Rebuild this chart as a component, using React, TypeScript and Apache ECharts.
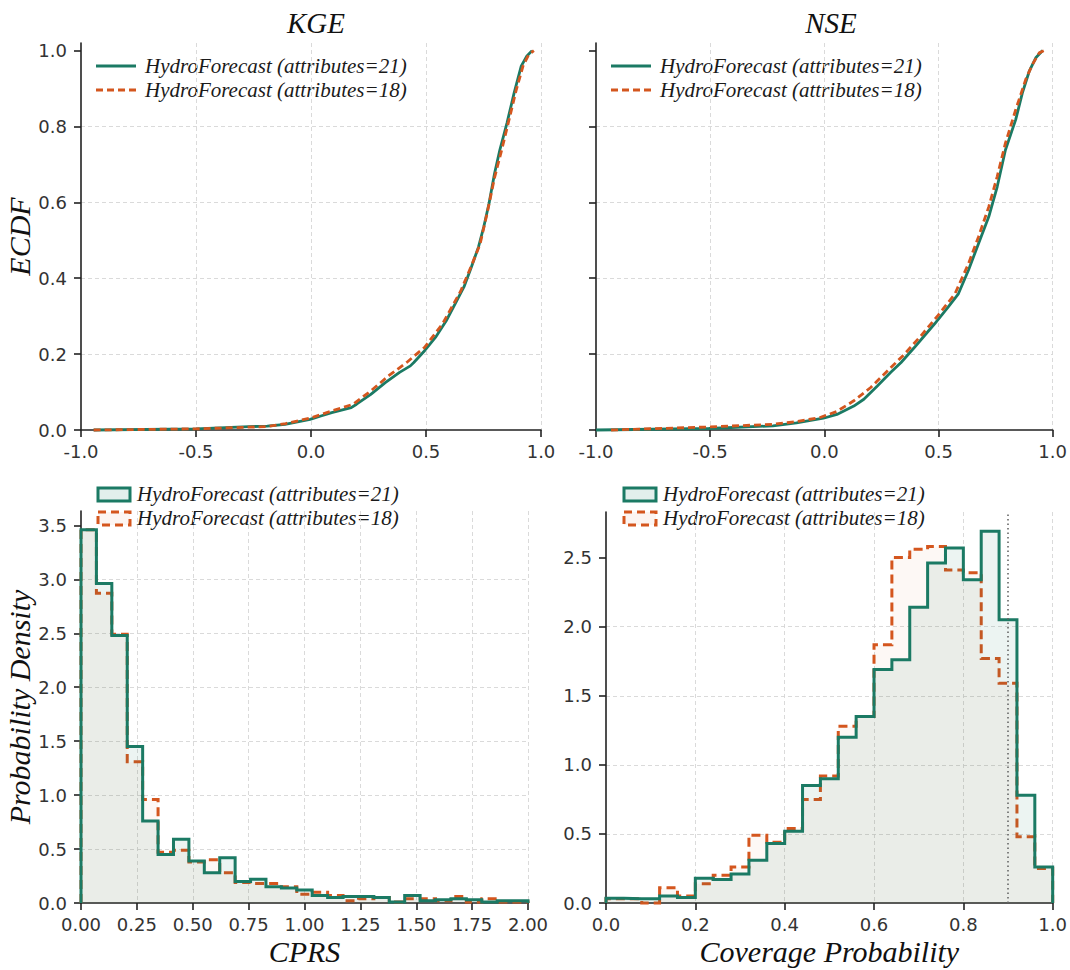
import React, { useEffect, useRef } from "react";
import * as echarts from "echarts";

const GREEN = "#1b7a64";
const ORANGE = "#d4561e";
const GREEN_FILL = "rgba(27,122,100,0.12)";
const ORANGE_FILL = "rgba(212,86,30,0.06)";
const TEXT = "#333333";
const SERIF = "Liberation Serif";
const SANS = "DejaVu Sans";

// ---- ECDF: KGE ----
const kgeX21 = [-0.945, -0.5, -0.27, -0.19, -0.113, -0.004, 0.043, 0.09, 0.175, 0.198, 0.26, 0.323, 0.385, 0.432, 0.447, 0.494, 0.541, 0.588, 0.634, 0.665, 0.697, 0.728, 0.751, 0.774, 0.798, 0.821, 0.852, 0.883, 0.914, 0.938, 0.961];
const kgeY21 = [0, 0.003, 0.009, 0.01, 0.015, 0.028, 0.037, 0.046, 0.059, 0.068, 0.094, 0.125, 0.152, 0.169, 0.178, 0.209, 0.244, 0.288, 0.341, 0.377, 0.429, 0.482, 0.535, 0.597, 0.676, 0.738, 0.809, 0.888, 0.959, 0.985, 1.0];
const kgeX18 = [-0.945, -0.5, -0.19, -0.11, 0.0, 0.09, 0.183, 0.26, 0.338, 0.416, 0.494, 0.572, 0.65, 0.697, 0.735, 0.766, 0.798, 0.829, 0.86, 0.891, 0.922, 0.946, 0.969];
const kgeY18 = [0, 0.003, 0.009, 0.017, 0.032, 0.05, 0.068, 0.103, 0.143, 0.178, 0.218, 0.28, 0.365, 0.432, 0.49, 0.572, 0.665, 0.738, 0.815, 0.893, 0.96, 0.989, 1.0];

// ---- ECDF: NSE ----
const nseX21 = [-1.0, -0.506, -0.225, -0.122, -0.004, 0.055, 0.129, 0.173, 0.232, 0.291, 0.336, 0.395, 0.439, 0.483, 0.542, 0.587, 0.631, 0.675, 0.72, 0.757, 0.793, 0.838, 0.867, 0.897, 0.926, 0.956];
const nseY21 = [0, 0.004, 0.011, 0.019, 0.031, 0.041, 0.063, 0.081, 0.116, 0.152, 0.178, 0.218, 0.249, 0.28, 0.324, 0.359, 0.421, 0.491, 0.562, 0.641, 0.738, 0.818, 0.888, 0.945, 0.981, 1.0];
const nseX18 = [-0.934, -0.506, -0.225, -0.122, -0.019, 0.055, 0.129, 0.203, 0.277, 0.351, 0.424, 0.498, 0.572, 0.631, 0.675, 0.72, 0.757, 0.793, 0.838, 0.882, 0.911, 0.941, 0.963];
const nseY18 = [0, 0.008, 0.015, 0.022, 0.033, 0.049, 0.077, 0.112, 0.156, 0.2, 0.249, 0.302, 0.359, 0.438, 0.509, 0.588, 0.668, 0.756, 0.844, 0.924, 0.963, 0.994, 1.0];

// ---- Histogram: CPRS (29 bins on [0, 2]) ----
const cprsRange = [0, 2];
const cprsDensity21 = [3.46, 2.96, 2.48, 1.45, 0.76, 0.45, 0.59, 0.39, 0.28, 0.42, 0.2, 0.22, 0.15, 0.14, 0.12, 0.07, 0.05, 0.06, 0.06, 0.05, 0.01, 0.07, 0.02, 0.03, 0.04, 0.03, 0.01, 0.02, 0.02];
const cprsDensity18 = [3.46, 2.87, 2.49, 1.31, 0.96, 0.47, 0.49, 0.38, 0.4, 0.28, 0.19, 0.18, 0.18, 0.15, 0.08, 0.1, 0.07, 0.02, 0.04, 0.05, 0.01, 0.04, 0.04, 0.02, 0.06, 0.01, 0.04, 0.01, 0.01];

// ---- Histogram: Coverage probability (25 bins on [0, 1]) ----
const covRange = [0, 1];
const covDensity21 = [0.034, 0.03, 0.03, 0.05, 0.04, 0.18, 0.17, 0.21, 0.31, 0.43, 0.52, 0.85, 0.9, 1.2, 1.35, 1.69, 1.76, 2.14, 2.46, 2.57, 2.34, 2.69, 2.05, 0.78, 0.26];
const covDensity18 = [0.03, 0.03, 0.0, 0.11, 0.05, 0.14, 0.2, 0.26, 0.49, 0.44, 0.54, 0.75, 0.92, 1.28, 1.35, 1.87, 2.5, 2.56, 2.58, 2.41, 2.39, 1.77, 1.59, 0.48, 0.25];
const nominalCoverage = 0.9;

// ---- ticks ----
const ecdfYTicks = [0, 0.2, 0.4, 0.6, 0.8, 1.0];
const cprsYTicks = [0, 0.5, 1, 1.5, 2, 2.5, 3, 3.5];
const covYTicks = [0, 0.5, 1, 1.5, 2, 2.5];

const LABEL21 = "HydroForecast (attributes=21)";
const LABEL18 = "HydroForecast (attributes=18)";

function zip(xs: number[], ys: number[]) {
  return xs.map((x, i) => [x, ys[i]]);
}

function stepOutline(range: number[], heights: number[]) {
  const n = heights.length;
  const w = (range[1] - range[0]) / n;
  const pts: number[][] = [[range[0], 0]];
  for (let i = 0; i < n; i++) {
    pts.push([range[0] + i * w, heights[i]]);
    pts.push([range[0] + (i + 1) * w, heights[i]]);
  }
  pts.push([range[1], 0]);
  return pts;
}

const gridLine = { show: true, lineStyle: { color: "#d6d6d6", width: 0.9, type: [4, 3] as any } };
const NAME_STYLE = { fontFamily: SERIF, fontStyle: "italic", fontSize: 30, color: "#111" };

function xAxis(gridIndex: number, min: number, max: number, interval: number, digits: number, name?: string) {
  return {
    type: "value",
    gridIndex,
    min,
    max,
    interval,
    name: name || "",
    nameLocation: "middle",
    nameGap: 33,
    nameTextStyle: NAME_STYLE,
    axisLine: { show: true, onZero: false, lineStyle: { color: "#222", width: 1.6 } },
    axisTick: { show: true, inside: false, length: 7, lineStyle: { color: "#222", width: 1.6 } },
    axisLabel: {
      show: true,
      margin: 12,
      color: TEXT,
      fontFamily: SANS,
      fontSize: 18,
      formatter: (v: number) => v.toFixed(digits),
    },
    splitLine: { ...gridLine, showMinLine: false, showMaxLine: true },
  };
}

function yAxis(gridIndex: number, max: number, interval: number, ticks: number[], showLabels: boolean, name?: string) {
  return {
    type: "value",
    gridIndex,
    min: 0,
    max,
    interval,
    name: name || "",
    nameLocation: "middle",
    nameGap: 45,
    nameTextStyle: NAME_STYLE,
    axisLine: { show: true, onZero: false, lineStyle: { color: "#222", width: 1.6 } },
    axisTick: { show: true, inside: false, length: 7, customValues: ticks, lineStyle: { color: "#222", width: 1.6 } },
    axisLabel: {
      show: showLabels,
      margin: 14,
      color: TEXT,
      fontFamily: SANS,
      fontSize: 18,
      customValues: ticks,
      formatter: (v: number) => v.toFixed(1),
    },
    splitLine: { ...gridLine, showMinLine: false, showMaxLine: false },
  };
}

const LEGEND_FONT = { fontFamily: SERIF, fontStyle: "italic", fontSize: 21, fill: "#1a1a1a" };

function legendLines(x: number, y: number) {
  return [
    { type: "line", shape: { x1: x, y1: y, x2: x + 40, y2: y }, style: { stroke: GREEN, lineWidth: 2.8 } },
    { type: "text", x: x + 49, y: y, style: { text: LABEL21, ...LEGEND_FONT, textVerticalAlign: "middle", verticalAlign: "middle" } },
    { type: "line", shape: { x1: x, y1: y + 24, x2: x + 40, y2: y + 24 }, style: { stroke: ORANGE, lineWidth: 2.8, lineDash: [7, 4] } },
    { type: "text", x: x + 49, y: y + 24, style: { text: LABEL18, ...LEGEND_FONT, textVerticalAlign: "middle", verticalAlign: "middle" } },
  ];
}

function legendBoxes(x: number, y: number) {
  return [
    { type: "rect", shape: { x: x, y: y - 6, width: 32, height: 13 }, style: { fill: GREEN_FILL, stroke: GREEN, lineWidth: 3 } },
    { type: "text", x: x + 39, y: y, style: { text: LABEL21, ...LEGEND_FONT, textVerticalAlign: "middle", verticalAlign: "middle" } },
    { type: "rect", shape: { x: x, y: y + 18, width: 32, height: 13 }, style: { fill: ORANGE_FILL, stroke: ORANGE, lineWidth: 3, lineDash: [8, 5] } },
    { type: "text", x: x + 39, y: y + 24, style: { text: LABEL18, ...LEGEND_FONT, textVerticalAlign: "middle", verticalAlign: "middle" } },
  ];
}

export default function App() {
  const ref = useRef<HTMLDivElement>(null);
  useEffect(() => {
    document.body.style.margin = "0";
    if (!ref.current) return;
    const chart = echarts.init(ref.current, null, { renderer: "svg" });

    const ecdfLine = (name: string, data: number[][], xi: number, color: string, dashed: boolean, z: number) => ({
      type: "line",
      name,
      xAxisIndex: xi,
      yAxisIndex: xi,
      data,
      showSymbol: false,
      symbol: "none",
      clip: false,
      z,
      lineStyle: { color, width: 2.8, type: dashed ? [7, 4] : "solid" },
    });

    const histLine = (name: string, data: number[][], xi: number, color: string, fill: string, dashed: boolean, z: number) => ({
      type: "line",
      name,
      xAxisIndex: xi,
      yAxisIndex: xi,
      data,
      showSymbol: false,
      symbol: "none",
      clip: false,
      z,
      lineStyle: { color, width: 3, type: dashed ? [9, 5] : "solid", join: "miter" },
      areaStyle: { color: fill, origin: 0 },
    });

    const titleStyle = { fontFamily: SERIF, fontStyle: "italic", fontWeight: "normal", fontSize: 29, color: "#111" };

    const option: any = {
      animation: false,
      backgroundColor: "#ffffff",
      title: [
        { text: "KGE", left: 311, top: 3, textAlign: "center", textStyle: titleStyle },
        { text: "NSE", left: 826, top: 3, textAlign: "center", textStyle: titleStyle },
      ],
      grid: [
        { left: 81, top: 43, width: 460, height: 387 },
        { left: 596, top: 43, width: 460, height: 387 },
        { left: 81, top: 511, width: 447, height: 392 },
        { left: 606, top: 512, width: 447, height: 391 },
      ],
      xAxis: [
        xAxis(0, -1, 1, 0.5, 1),
        xAxis(1, -1, 1, 0.5, 1),
        xAxis(2, 0, 2, 0.25, 2, "CPRS"),
        xAxis(3, 0, 1, 0.2, 1, "Coverage Probability"),
      ],
      yAxis: [
        yAxis(0, 1.02, 0.2, ecdfYTicks, true, "ECDF"),
        yAxis(1, 1.02, 0.2, ecdfYTicks, false),
        yAxis(2, 3.633, 0.5, cprsYTicks, true, "Probability Density"),
        yAxis(3, 2.83, 0.5, covYTicks, true),
      ],
      series: [
        ecdfLine("KGE 21", zip(kgeX21, kgeY21), 0, GREEN, false, 2),
        ecdfLine("KGE 18", zip(kgeX18, kgeY18), 0, ORANGE, true, 3),
        ecdfLine("NSE 21", zip(nseX21, nseY21), 1, GREEN, false, 2),
        ecdfLine("NSE 18", zip(nseX18, nseY18), 1, ORANGE, true, 3),
        histLine("CPRS 18", stepOutline(cprsRange, cprsDensity18), 2, ORANGE, ORANGE_FILL, true, 2),
        histLine("CPRS 21", stepOutline(cprsRange, cprsDensity21), 2, GREEN, GREEN_FILL, false, 3),
        histLine("COV 18", stepOutline(covRange, covDensity18), 3, ORANGE, ORANGE_FILL, true, 2),
        {
          ...histLine("COV 21", stepOutline(covRange, covDensity21), 3, GREEN, GREEN_FILL, false, 3),
          markLine: {
            silent: true,
            symbol: "none",
            label: { show: false },
            lineStyle: { color: "#666", width: 1.6, type: [1.5, 3] },
            data: [{ xAxis: nominalCoverage }],
          },
        },
      ],
      graphic: [
        ...legendLines(96, 66),
        ...legendLines(611, 66),
        ...legendBoxes(98, 494),
        ...legendBoxes(624, 494),
      ],
    };
    chart.setOption(option);
    return () => chart.dispose();
  }, []);
  return <div ref={ref} style={{ width: 1070, height: 970 }} />;
}
